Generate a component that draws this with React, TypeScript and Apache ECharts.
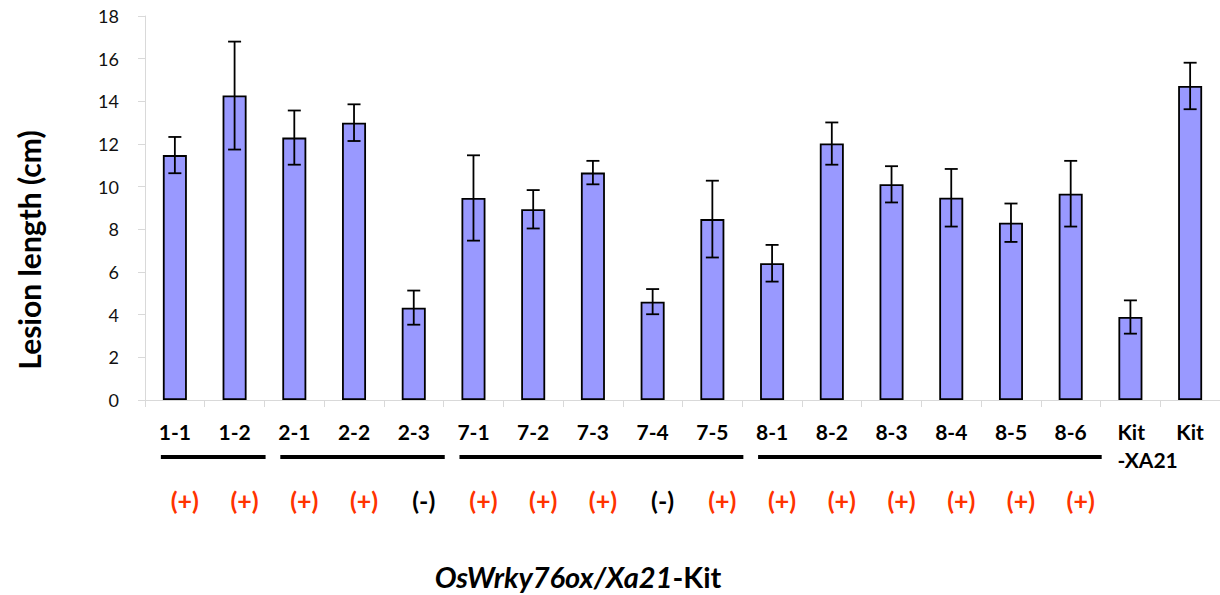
import React, { useEffect, useRef } from "react";
import * as echarts from "echarts";

const categories = [
  "1-1", "1-2", "2-1", "2-2", "2-3",
  "7-1", "7-2", "7-3", "7-4", "7-5",
  "8-1", "8-2", "8-3", "8-4", "8-5", "8-6",
  "Kit\n-XA21", "Kit",
];
const lesionMeans = [
  11.48, 14.27, 12.3, 13.0, 4.33,
  9.47, 8.94, 10.66, 4.61, 8.48,
  6.41, 12.02, 10.11, 9.48, 8.31, 9.67,
  3.89, 14.72,
];
const lesionErrors = [
  0.85, 2.53, 1.27, 0.86, 0.8,
  2.0, 0.9, 0.55, 0.59, 1.8,
  0.86, 0.99, 0.85, 1.35, 0.9, 1.54,
  0.78, 1.09,
];
const signs = [
  "(+)", "(+)", "(+)", "(+)", "(-)",
  "(+)", "(+)", "(+)", "(-)", "(+)",
  "(+)", "(+)", "(+)", "(+)", "(+)", "(+)",
  "", "",
];
// groups of lines (first and last category index) underlined together
const lineGroups: [number, number][] = [
  [0, 1],
  [2, 4],
  [5, 9],
  [10, 15],
];
const yTicks = { min: 0, max: 18, interval: 2 };

const FONT = "Lato, 'Open Sans', sans-serif";

export default function App() {
  const ref = useRef<HTMLDivElement>(null);

  useEffect(() => {
    if (!ref.current) return;
    const chart = echarts.init(ref.current, undefined, { renderer: "svg" });

    const errData = lesionMeans.map((m, i) => [i, m, lesionErrors[i]]);

    const option: any = {
      animation: false,
      backgroundColor: "#ffffff",
      textStyle: { fontFamily: FONT },
      grid: { left: 145, top: 16, bottom: 195, right: -5, containLabel: false },
      xAxis: [
        {
          type: "category",
          data: categories,
          boundaryGap: true,
          position: "bottom",
          axisLine: { show: true, lineStyle: { color: "#d9d9d9", width: 1 } },
          axisTick: { show: true, length: 7, lineStyle: { color: "#d9d9d9" }, alignWithLabel: false },
          axisLabel: {
            interval: 0,
            margin: 17,
            fontFamily: FONT,
            fontSize: 21,
            fontWeight: "bold",
            color: "#000",
            lineHeight: 28,
            formatter: (v: string) =>
              v.indexOf("\n") >= 0
                ? v.split("\n").map((s) => `{k|${s}}`).join("\n")
                : v,
            rich: {
              k: {
                fontFamily: FONT,
                fontSize: 21,
                fontWeight: "bold",
                color: "#000",
                lineHeight: 28,
                width: 62,
                align: "left",
                padding: [0, 0, 0, 36],
              },
            },
          },
          splitLine: { show: false },
        },
        {
          type: "category",
          data: categories,
          boundaryGap: true,
          position: "bottom",
          axisLine: { show: false },
          axisTick: { show: false },
          axisLabel: {
            interval: 0,
            margin: 85,
            formatter: (_v: string, idx: number) => {
              const s = signs[idx];
              if (!s) return "";
              return s === "(+)" ? `{p|${s}}` : `{m|${s}}`;
            },
            rich: {
              p: {
                fontFamily: FONT,
                fontSize: 25,
                fontWeight: "bold",
                color: "#ff3300",
                padding: [0, 0, 0, 20],
                lineHeight: 30,
              },
              m: {
                fontFamily: FONT,
                fontSize: 25,
                fontWeight: "bold",
                color: "#000",
                padding: [0, 0, 0, 20],
                lineHeight: 30,
              },
            },
          },
          splitLine: { show: false },
        },
      ],
      yAxis: {
        type: "value",
        min: yTicks.min,
        max: yTicks.max,
        interval: yTicks.interval,
        axisLine: { show: true, lineStyle: { color: "#d9d9d9", width: 1 } },
        axisTick: { show: true, length: 7, lineStyle: { color: "#d9d9d9" } },
        axisLabel: {
          margin: 26,
          fontFamily: FONT,
          fontSize: 18,
          color: "#111",
        },
        splitLine: { show: false },
      },
      series: [
        {
          type: "bar",
          xAxisIndex: 0,
          data: lesionMeans,
          barWidth: 24,
          itemStyle: { color: "#9999ff", borderColor: "#000", borderWidth: 1.8 },
        },
        {
          type: "custom",
          xAxisIndex: 0,
          data: errData,
          z: 5,
          renderItem: (params: any, api: any) => {
            const i = api.value(0);
            const m = api.value(1);
            const e = api.value(2);
            const top = api.coord([i, m + e]);
            const bot = api.coord([i, m - e]);
            const hw = 6.5;
            const style = { stroke: "#000", lineWidth: 1.8 };
            return {
              type: "group",
              children: [
                { type: "line", shape: { x1: top[0], y1: top[1], x2: bot[0], y2: bot[1] }, style },
                { type: "line", shape: { x1: top[0] - hw, y1: top[1], x2: top[0] + hw, y2: top[1] }, style },
                { type: "line", shape: { x1: bot[0] - hw, y1: bot[1], x2: bot[0] + hw, y2: bot[1] }, style },
              ],
            };
          },
        },
      ],
    };

    chart.setOption(option);

    const baseY = chart.convertToPixel({ yAxisIndex: 0 }, 0) as number;
    const groupLines = lineGroups.map(([a, b]) => {
      const xa = chart.convertToPixel({ xAxisIndex: 0 }, categories[a]) as number;
      const xb = chart.convertToPixel({ xAxisIndex: 0 }, categories[b]) as number;
      return {
        type: "line",
        shape: { x1: xa - 14, y1: baseY + 57, x2: xb + 31, y2: baseY + 57 },
        style: { stroke: "#000", lineWidth: 4 },
      };
    });

    chart.setOption({
      graphic: [
        ...groupLines,
        {
          type: "text",
          x: 29,
          y: 250,
          rotation: Math.PI / 2,
          style: {
            text: "Lesion length (cm)",
            fontFamily: FONT,
            fontSize: 30,
            fontWeight: "bold",
            fill: "#000",
            align: "center",
            verticalAlign: "middle",
          },
        },
        {
          type: "text",
          x: 578,
          y: 576,
          style: {
            text: "{i|OsWrky76ox/Xa21}{n|-Kit}",
            align: "center",
            verticalAlign: "middle",
            rich: {
              i: {
                fontFamily: FONT,
                fontSize: 29,
                fontWeight: "bold",
                fontStyle: "italic",
                fill: "#000",
              },
              n: {
                fontFamily: FONT,
                fontSize: 29,
                fontWeight: "bold",
                fill: "#000",
              },
            },
          },
        },
      ],
    });

    return () => chart.dispose();
  }, []);

  return (
    <div
      ref={ref}
      style={{ position: "fixed", left: 0, top: 0, width: 1220, height: 595, background: "#fff" }}
    />
  );
}
